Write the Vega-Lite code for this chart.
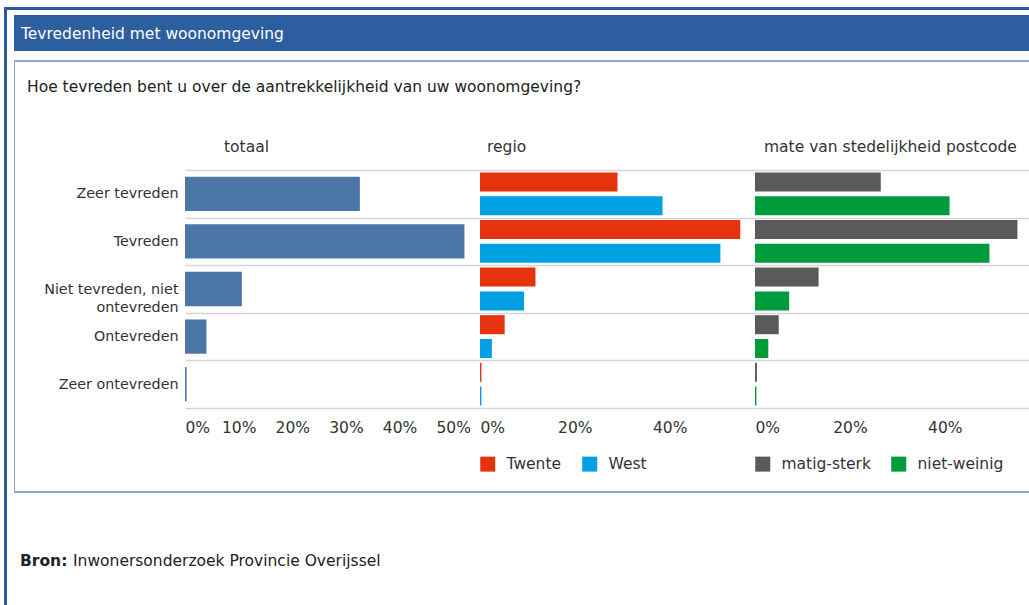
{
  "$schema": "https://vega.github.io/schema/vega-lite/v6.json",
  "padding": {"left": 4, "top": 7, "right": 0, "bottom": 0},
  "background": "white",
  "config": {
    "font": "DejaVu Sans",
    "view": {"stroke": null},
    "title": {"font": "DejaVu Sans", "color": "#333333", "fontWeight": "normal", "frame": "group", "anchor": "start"},
    "axis": {"labelFont": "DejaVu Sans", "labelColor": "#333333"},
    "legend": {"labelFont": "DejaVu Sans", "labelColor": "#333333"}
  },
  "datasets": {
    "totaal": [
      {"cat": "Zeer tevreden", "value": 32.6},
      {"cat": "Tevreden", "value": 52.1},
      {"cat": "Niet tevreden, niet ontevreden", "value": 10.6},
      {"cat": "Ontevreden", "value": 4.0},
      {"cat": "Zeer ontevreden", "value": 0.3}
    ],
    "regio": [
      {"cat": "Zeer tevreden", "group": "Twente", "value": 29.0},
      {"cat": "Zeer tevreden", "group": "West", "value": 38.5},
      {"cat": "Tevreden", "group": "Twente", "value": 54.9},
      {"cat": "Tevreden", "group": "West", "value": 50.7},
      {"cat": "Niet tevreden, niet ontevreden", "group": "Twente", "value": 11.7},
      {"cat": "Niet tevreden, niet ontevreden", "group": "West", "value": 9.3},
      {"cat": "Ontevreden", "group": "Twente", "value": 5.2},
      {"cat": "Ontevreden", "group": "West", "value": 2.5},
      {"cat": "Zeer ontevreden", "group": "Twente", "value": 0.3},
      {"cat": "Zeer ontevreden", "group": "West", "value": 0.3}
    ],
    "stedelijkheid": [
      {"cat": "Zeer tevreden", "group": "matig-sterk", "value": 26.5},
      {"cat": "Zeer tevreden", "group": "niet-weinig", "value": 41.0},
      {"cat": "Tevreden", "group": "matig-sterk", "value": 55.3},
      {"cat": "Tevreden", "group": "niet-weinig", "value": 49.4},
      {"cat": "Niet tevreden, niet ontevreden", "group": "matig-sterk", "value": 13.4},
      {"cat": "Niet tevreden, niet ontevreden", "group": "niet-weinig", "value": 7.2},
      {"cat": "Ontevreden", "group": "matig-sterk", "value": 5.0},
      {"cat": "Ontevreden", "group": "niet-weinig", "value": 2.8},
      {"cat": "Zeer ontevreden", "group": "matig-sterk", "value": 0.4},
      {"cat": "Zeer ontevreden", "group": "niet-weinig", "value": 0.3}
    ]
  },
  "spacing": 0,
  "vconcat": [
    {"data": {"values": [{}]}, "mark": {"type": "rect", "opacity": 0}, "encoding": {}, "width": 1025, "height": 3, "view": {"fill": "#2b5b9b", "stroke": null}},
    {
      "spacing": 7,
      "hconcat": [
        {"data": {"values": [{}]}, "mark": {"type": "rect", "opacity": 0}, "encoding": {}, "width": 3, "height": 595, "view": {"fill": "#2b5b9b", "stroke": null}},
        {
          "spacing": 0,
          "vconcat": [
            {"data": {"values": [{}]}, "mark": {"type": "rect", "opacity": 0}, "encoding": {}, "width": 1, "height": 5},
            {
              "data": {"values": [{}]}, "mark": {"type": "rect", "opacity": 0}, "encoding": {},
              "width": 1015, "height": 36,
              "view": {"fill": "#2d5e9f", "stroke": null},
              "title": {"text": "Tevredenheid met woonomgeving", "color": "white", "fontSize": 15.5, "dx": 7, "offset": -27.5, "anchor": "start", "frame": "group"}
            },
            {"data": {"values": [{}]}, "mark": {"type": "rect", "opacity": 0}, "encoding": {}, "width": 1, "height": 9},
            {"data": {"values": [{}]}, "mark": {"type": "rect", "opacity": 0}, "encoding": {}, "width": 1015, "height": 2, "view": {"fill": "#8ea7cf", "stroke": null}},
            {
              "spacing": 12,
              "hconcat": [
                {"data": {"values": [{}]}, "mark": {"type": "rect", "opacity": 0}, "encoding": {}, "width": 1, "height": 429, "view": {"fill": "#8ea7cf", "stroke": null}},
                {
                  "spacing": 0,
                  "vconcat": [
                    {
                      "data": {"values": [{}]}, "mark": {"type": "rect", "opacity": 0}, "encoding": {},
                      "width": 600, "height": 78,
                      "title": {"text": "Hoe tevreden bent u over de aantrekkelijkheid van uw woonomgeving?", "fontSize": 15.5, "color": "#222222", "offset": -33.5, "anchor": "start", "frame": "group"}
                    },
                    {
                      "bounds": "flush",
                      "spacing": 0,
                      "resolve": {"scale": {"color": "independent", "yOffset": "independent"}, "legend": {"color": "independent"}},
                      "hconcat": [
                        {"data": {"values": [{}]}, "mark": {"type": "rect", "opacity": 0}, "encoding": {}, "width": 158, "height": 238},
                        {
                          "width": 295, "height": 238,
                          "data": {"name": "totaal"},
                          "title": {"text": "totaal", "fontSize": 15.5, "dx": 39, "offset": 7.5, "anchor": "start", "frame": "group"},
                          "mark": {"type": "bar", "height": {"band": 0.72}, "color": "#4c76a6"},
                          "encoding": {
                            "y": {
                              "field": "cat", "type": "nominal",
                              "sort": ["Zeer tevreden", "Tevreden", "Niet tevreden, niet ontevreden", "Ontevreden", "Zeer ontevreden"],
                              "scale": {"paddingInner": 0, "paddingOuter": 0},
                              "axis": {
                                "title": null, "ticks": false, "domain": false, "grid": true, "tickBand": "extent",
                                "gridColor": "#d6d6d6", "gridWidth": 1.5,
                                "labelPadding": 7, "labelFontSize": 14.3, "labelLineHeight": 18, "labelLimit": 300,
                                "labelExpr": "datum.value == 'Niet tevreden, niet ontevreden' ? ['Niet tevreden, niet', 'ontevreden'] : datum.value"
                              }
                            },
                            "x": {
                              "field": "value", "type": "quantitative",
                              "scale": {"domain": [0, 55], "nice": false},
                              "axis": {
                                "title": null, "values": [0, 10, 20, 30, 40, 50], "labelExpr": "datum.value + '%'",
                                "grid": false, "ticks": false, "domain": false, "labelFlush": true,
                                "labelFontSize": 15.5, "labelPadding": 12
                              }
                            }
                          }
                        },
                        {
                          "width": 275, "height": 238,
                          "data": {"name": "regio"},
                          "title": {"text": "regio", "fontSize": 15.5, "dx": 7, "offset": 14.5, "anchor": "start", "frame": "group"},
                          "mark": {"type": "bar"},
                          "encoding": {
                            "y": {
                              "field": "cat", "type": "nominal",
                              "sort": ["Zeer tevreden", "Tevreden", "Niet tevreden, niet ontevreden", "Ontevreden", "Zeer ontevreden"],
                              "scale": {"paddingInner": 0, "paddingOuter": 0},
                              "axis": {"title": null, "labels": false, "ticks": false, "domain": false, "grid": true, "tickBand": "extent", "gridColor": "#d6d6d6", "gridWidth": 1.5}
                            },
                            "yOffset": {"field": "group", "type": "nominal", "sort": ["Twente", "West"], "scale": {"paddingInner": 0.2, "paddingOuter": 0.1}},
                            "x": {
                              "field": "value", "type": "quantitative",
                              "scale": {"domain": [0, 58], "nice": false},
                              "axis": {
                                "title": null, "values": [0, 20, 40], "labelExpr": "datum.value + '%'",
                                "grid": false, "ticks": false, "domain": false, "labelFlush": true,
                                "labelFontSize": 15.5, "labelPadding": 12
                              }
                            },
                            "color": {
                              "field": "group", "type": "nominal",
                              "scale": {"domain": ["Twente", "West"], "range": ["#e5330f", "#00a0e2"]},
                              "legend": {
                                "title": null, "orient": "bottom", "direction": "horizontal",
                                "symbolType": "square", "symbolSize": 225, "symbolStrokeWidth": 0, "symbolOpacity": 1,
                                "labelFontSize": 15.5, "labelOffset": 11, "columnPadding": 20, "offset": 20, "padding": 0
                              }
                            }
                          }
                        },
                        {
                          "width": 280, "height": 238,
                          "data": {"name": "stedelijkheid"},
                          "title": {"text": "mate van stedelijkheid postcode", "fontSize": 15.5, "dx": 9, "offset": 14.5, "anchor": "start", "frame": "group"},
                          "mark": {"type": "bar"},
                          "encoding": {
                            "y": {
                              "field": "cat", "type": "nominal",
                              "sort": ["Zeer tevreden", "Tevreden", "Niet tevreden, niet ontevreden", "Ontevreden", "Zeer ontevreden"],
                              "scale": {"paddingInner": 0, "paddingOuter": 0},
                              "axis": {"title": null, "labels": false, "ticks": false, "domain": false, "grid": true, "tickBand": "extent", "gridColor": "#d6d6d6", "gridWidth": 1.5}
                            },
                            "yOffset": {"field": "group", "type": "nominal", "sort": ["matig-sterk", "niet-weinig"], "scale": {"paddingInner": 0.2, "paddingOuter": 0.1}},
                            "x": {
                              "field": "value", "type": "quantitative",
                              "scale": {"domain": [0, 59], "nice": false},
                              "axis": {
                                "title": null, "values": [0, 20, 40], "labelExpr": "datum.value + '%'",
                                "grid": false, "ticks": false, "domain": false, "labelFlush": true,
                                "labelFontSize": 15.5, "labelPadding": 12
                              }
                            },
                            "color": {
                              "field": "group", "type": "nominal",
                              "scale": {"domain": ["matig-sterk", "niet-weinig"], "range": ["#5a5a5a", "#009b3a"]},
                              "legend": {
                                "title": null, "orient": "bottom", "direction": "horizontal",
                                "symbolType": "square", "symbolSize": 225, "symbolStrokeWidth": 0, "symbolOpacity": 1,
                                "labelFontSize": 15.5, "labelOffset": 11, "columnPadding": 20, "offset": 20, "padding": 0
                              }
                            }
                          }
                        }
                      ]
                    }
                  ]
                }
              ]
            },
            {"data": {"values": [{}]}, "mark": {"type": "rect", "opacity": 0}, "encoding": {}, "width": 1015, "height": 2, "view": {"fill": "#8ea7cf", "stroke": null}},
            {
              "bounds": "flush",
              "spacing": 0,
              "hconcat": [
                {
                  "data": {"values": [{}]}, "mark": {"type": "rect", "opacity": 0}, "encoding": {},
                  "width": 59, "height": 110,
                  "title": {"text": "Bron:", "fontSize": 15.5, "fontWeight": "bold", "color": "#222222", "dx": 6, "offset": -76.5, "anchor": "start", "frame": "group"}
                },
                {
                  "data": {"values": [{}]}, "mark": {"type": "rect", "opacity": 0}, "encoding": {},
                  "width": 500, "height": 110,
                  "title": {"text": "Inwonersonderzoek Provincie Overijssel", "fontSize": 15.5, "color": "#222222", "offset": -76.5, "anchor": "start", "frame": "group"}
                }
              ]
            }
          ]
        }
      ]
    }
  ]
}
